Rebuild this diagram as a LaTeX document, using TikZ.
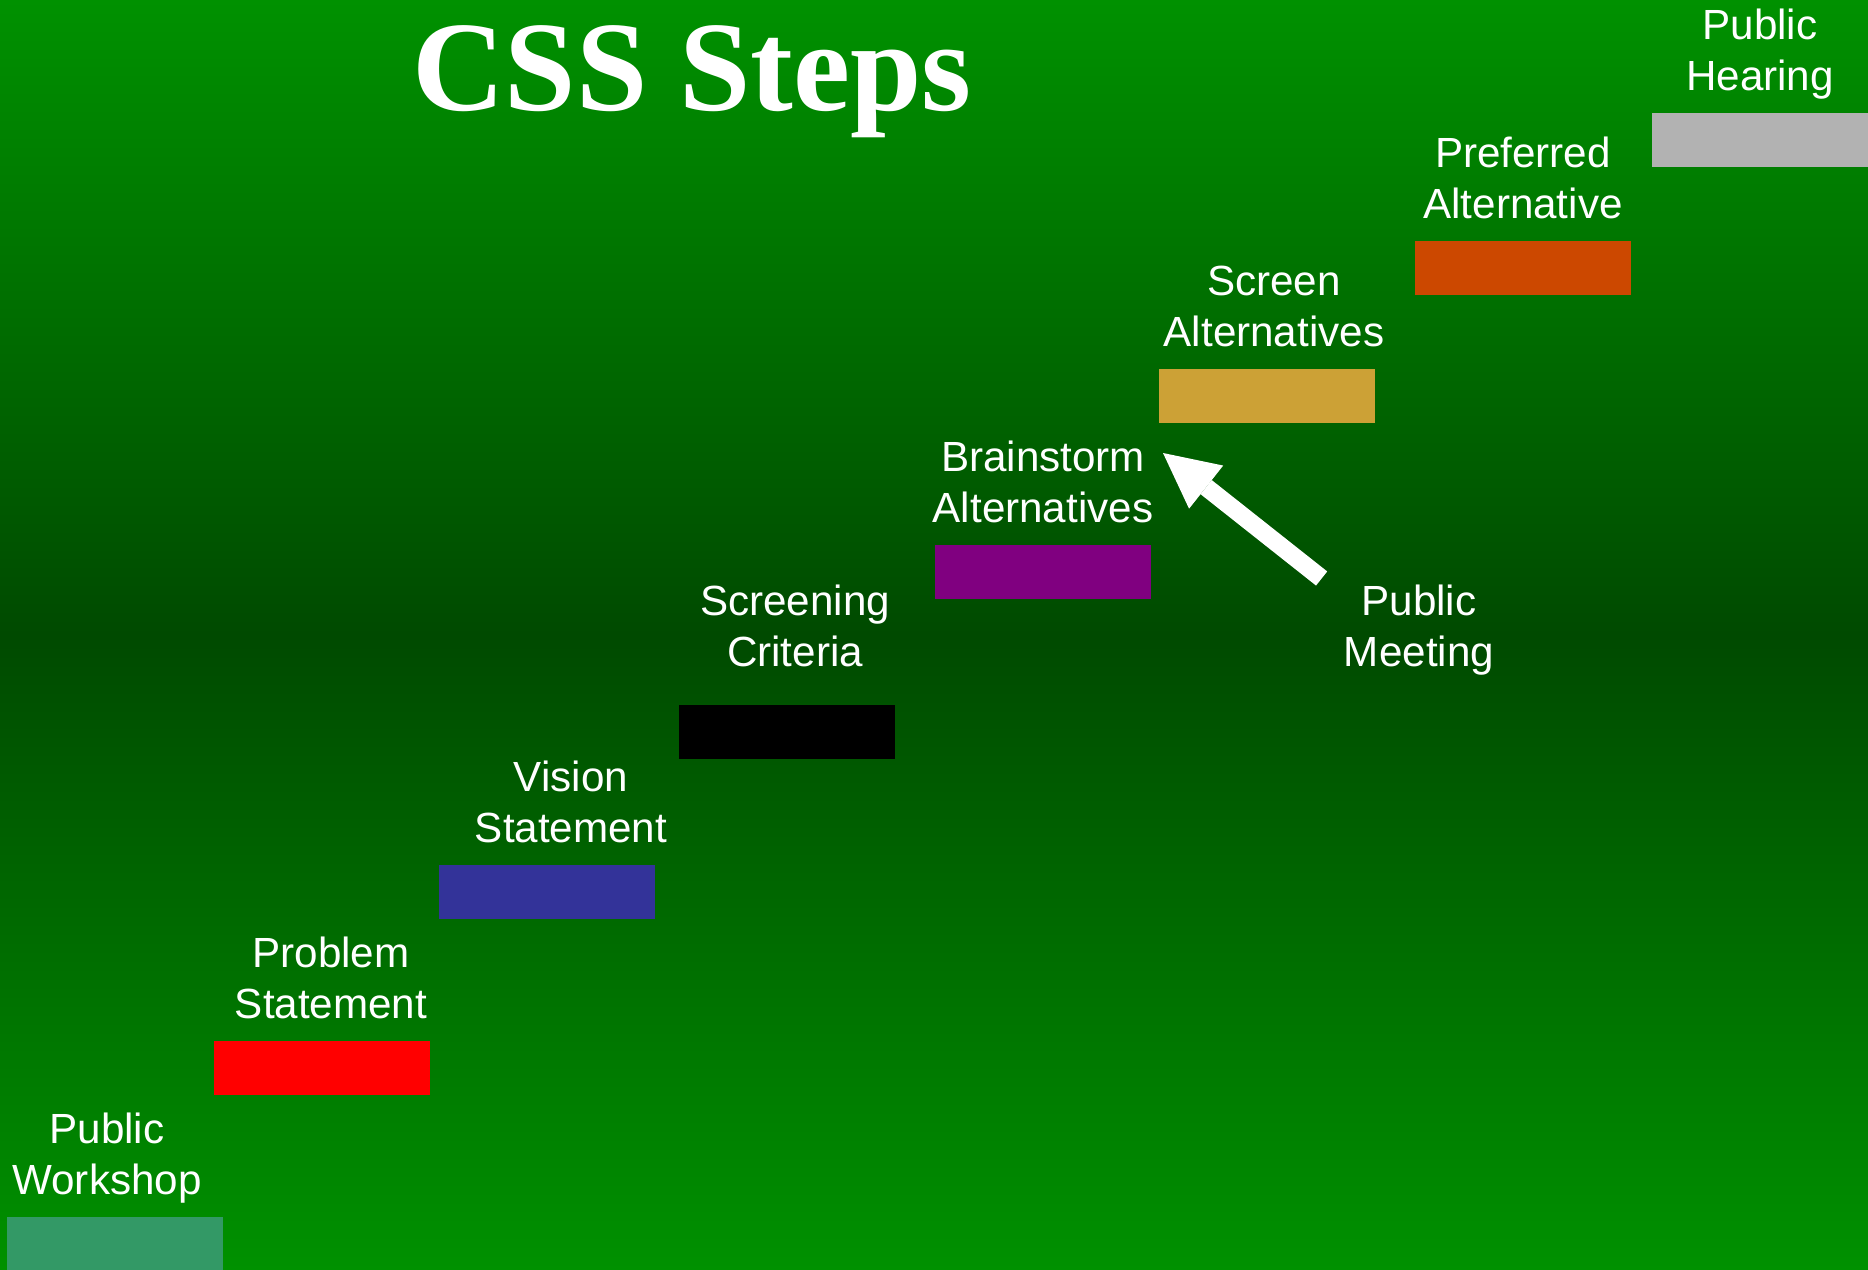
\documentclass[tikz,border=0pt]{standalone}
\usepackage{fontspec}
\setmainfont{Liberation Sans}
\newfontfamily\titlefont{Liberation Serif}
\usetikzlibrary{arrows.meta,positioning}

\definecolor{bgtop}{RGB}{0,145,0}
\definecolor{bgmid}{RGB}{0,74,0}
\definecolor{wscol}{RGB}{51,153,102}
\definecolor{pscol}{RGB}{255,0,0}
\definecolor{vscol}{RGB}{51,51,153}
\definecolor{sccol}{RGB}{0,0,0}
\definecolor{bacol}{RGB}{128,0,128}
\definecolor{sacol}{RGB}{204,161,54}
\definecolor{pacol}{RGB}{204,72,0}
\definecolor{phcol}{RGB}{178,178,178}

\tikzset{
  stepbox/.style={rectangle, minimum width=43.2mm, minimum height=10.8mm, inner sep=0pt},
  steptext/.style={text=white, font=\fontsize{24}{29}\selectfont, align=center, inner sep=0pt},
  bigarrow/.style={white, line width=3.6mm, -{Triangle[length=11mm,width=11mm,line width=0pt]}}
}

\begin{document}
\begin{tikzpicture}[x=0.2mm,y=-0.2mm]
% Background
\shade[top color=bgtop, bottom color=bgtop, middle color=bgmid] (0,0) rectangle (1868,1270);
\useasboundingbox (0,0) rectangle (1868,1270);

% Title
\node[text=white, font=\titlefont\bfseries\fontsize{73}{80}\selectfont, anchor=base] (title) at (692,110) {CSS Steps};

% Steps
\node[stepbox, fill=wscol] (ws) at (115,1244) {};
\node[stepbox, fill=pscol] (ps) at (322,1068) {};
\node[stepbox, fill=vscol] (vs) at (547,892) {};
\node[stepbox, fill=sccol] (sc) at (787,732) {};
\node[stepbox, fill=bacol] (ba) at (1043,572) {};
\node[stepbox, fill=sacol] (sa) at (1267,396) {};
\node[stepbox, fill=pacol] (pa) at (1523,268) {};
\node[stepbox, fill=phcol] (ph) at (1760,140) {};

% Labels
\node[steptext, above=3.8pt of ws, xshift=-1.6mm] (wslabel) {Public\\Workshop\strut};
\node[steptext, above=3.8pt of ps, xshift=1.8mm] (pslabel) {Problem\\Statement\strut};
\node[steptext, above=3.8pt of vs, xshift=4.8mm] (vslabel) {Vision\\Statement\strut};
\node[steptext, above=12.9pt of sc, xshift=1.6mm] (sclabel) {Screening\\Criteria\strut};
\node[steptext, above=3.8pt of ba] (balabel) {Brainstorm\\Alternatives\strut};
\node[steptext, above=3.8pt of sa, xshift=1.4mm] (salabel) {Screen\\Alternatives\strut};
\node[steptext, above=3.8pt of pa] (palabel) {Preferred\\Alternative\strut};
\node[steptext, above=3.8pt of ph] (phlabel) {Public\\Hearing\strut};
\node[steptext, anchor=south] (meet) at (1419,682) {Public\\Meeting\strut};

% Arrow
\coordinate (mtip) at (1163,453);
\draw[bigarrow] ([shift={(-22,-6)}]meet.north west) -- (mtip);
\end{tikzpicture}
\end{document}
